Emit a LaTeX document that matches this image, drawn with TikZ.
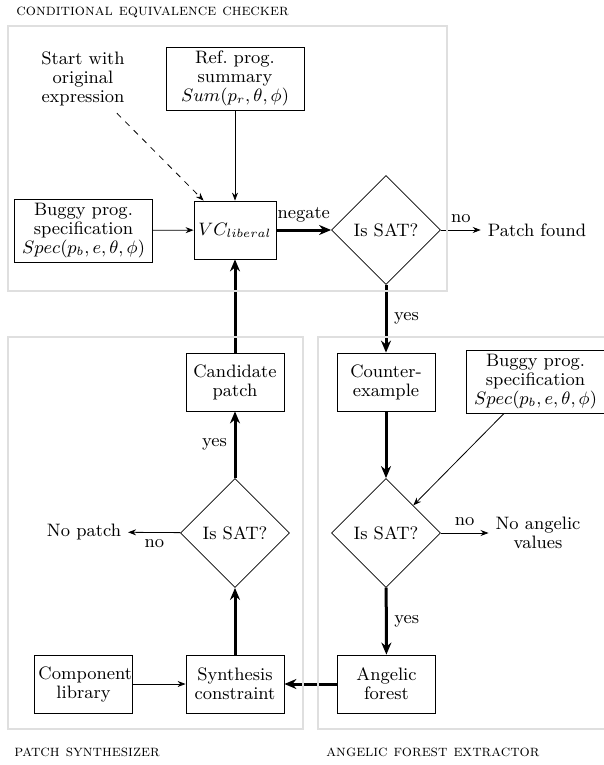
\documentclass[tikz,border=0pt]{standalone}
\usetikzlibrary{shapes.geometric,arrows.meta}
\begin{document}
\begin{tikzpicture}[x=0.5pt,y=-0.5pt,
  font=\fontsize{9}{9.5}\selectfont,
  box/.style={rectangle, draw, align=center, text width=45pt, minimum height=29pt, inner sep=2pt},
  widebox/.style={box, text width=65pt, minimum height=31.5pt},
  decision/.style={diamond, draw, minimum size=54.5pt, inner sep=0pt},
  plain/.style={align=center},
  arrow/.style={-{Stealth[length=4pt,width=3pt]}},
  bigarrow/.style={-{Stealth[length=6pt,width=5pt]}, line width=1.5pt},
  frame/.style={draw=gray!25, line width=1pt},
  title/.style={anchor=west, inner sep=0pt, font=\fontsize{8}{9}\selectfont\scshape}
]
\useasboundingbox (0,0) rectangle (604,765);

% conditional equivalence checker
\node[widebox] (ref) at (235,78.5) {Ref.\ prog.\\summary\\$Sum(p_r,\theta,\phi)$};
\node[plain] (start) at (83,79) {Start with\\original\\expression};
\node[widebox] (bugL) at (83.5,230.5) {Buggy prog.\\specification\\$Spec(p_b,e,\theta,\phi)$};
\node[box, text width=37pt] (vc) at (235,230) {$VC_{liberal}$};
\node[decision] (sat1) at (386,230) {Is SAT?};
\node[plain] (found) at (537,230) {Patch found};

% angelic forest extractor
\node[box] (cex) at (386,382) {Counter-\\example};
\node[widebox] (bugR) at (535.5,381.5) {Buggy prog.\\specification\\$Spec(p_b,e,\theta,\phi)$};
\node[decision] (sat3) at (386,533) {Is SAT?};
\node[plain] (noval) at (538,533) {No angelic\\values};
\node[box] (forest) at (386.5,684) {Angelic\\forest};

% patch synthesizer
\node[box] (cand) at (235,382) {Candidate\\patch};
\node[decision] (sat2) at (235,533) {Is SAT?};
\node[plain] (nopatch) at (84,532) {No patch};
\node[box] (synth) at (235,684) {Synthesis\\constraint};
\node[box] (comp) at (83.5,684) {Component\\library};

\draw[arrow] (bugL) -- (vc);
\draw[arrow] (ref) -- (vc);
\draw[arrow, dashed] (start) -- ([xshift=5pt]vc.north west);
\draw[bigarrow] (vc) -- node[above]{negate} (sat1);
\draw[arrow] (sat1) -- node[above]{no} (found);
\draw[bigarrow] (sat1) -- node[right]{yes} (cex);
\draw[bigarrow] (cex) -- (sat3);
\draw[arrow] (bugR) -- (sat3);
\draw[arrow] (sat3) -- node[above]{no} (noval);
\draw[bigarrow] (sat3) -- node[right]{yes} (forest);
\draw[bigarrow] (forest) -- (synth);
\draw[arrow] (comp) -- (synth);
\draw[bigarrow] (synth) -- (sat2);
\draw[bigarrow] (sat2) -- node[left]{yes} (cand);
\draw[arrow] (sat2) -- node[below]{no} (nopatch);
\draw[bigarrow] (cand) -- (vc);

% frames
\draw[frame] (8,26) rectangle (447,291);
\draw[frame] (8,337) rectangle (303,729);
\draw[frame] (318,337) rectangle (640,729);

\node[title] (tcec) at (16,12) {conditional equivalence checker};
\node[title] (tps) at (14,752) {patch synthesizer};
\node[title] (tafe) at (326,752) {angelic forest extractor};
\end{tikzpicture}
\end{document}
